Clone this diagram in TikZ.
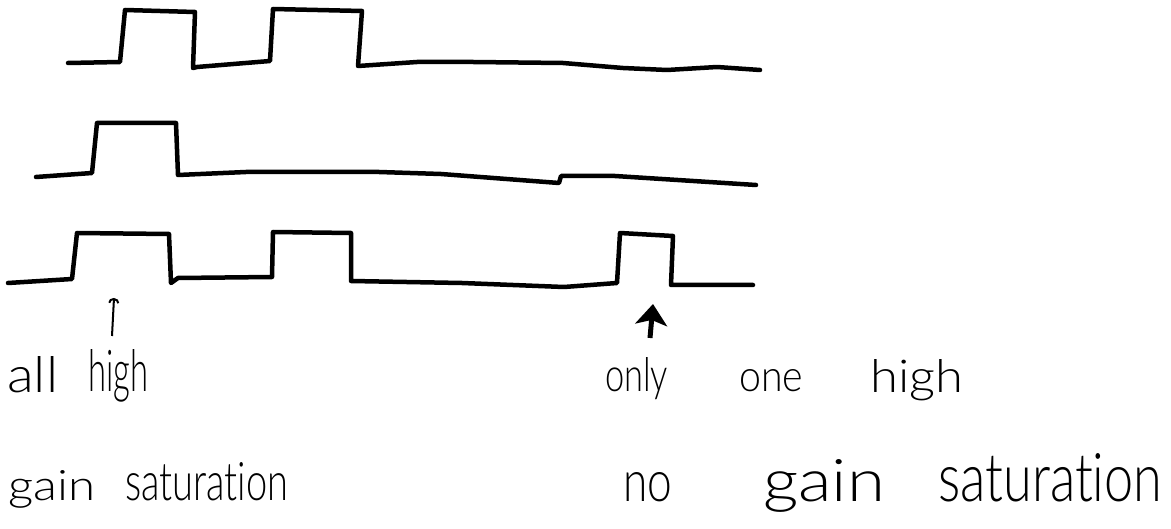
\documentclass[tikz,border=0pt]{standalone}
\usepackage{graphicx}
\usepackage{fontspec}
\newfontfamily\handfont{Lato Light}[Ligatures=NoCommon]
\usetikzlibrary{arrows.meta}
\begin{document}
\begin{tikzpicture}[x=1pt,y=-1pt,
  wave/.style={line width=4.5pt, line join=round, line cap=round},
  lbl/.style={inner sep=0pt, anchor=base west, font=\handfont}]
\useasboundingbox (0,0) rectangle (1171,529);
% waveform 1
\draw[wave] (68,63) -- (120,62) -- (125,10) -- (195,12) -- (193,68) -- (197,67)
  -- (270,61) -- (273,9) -- (362,11) -- (358,66) -- (417,62) -- (473,62)
  -- (563,63) -- (623,68) -- (667,70) -- (717,67) -- (760,70);
% waveform 2
\draw[wave] (36,177) -- (92,173) -- (97,123) -- (176,123) -- (178,175)
  -- (246,172) -- (379,172) -- (441,174) -- (559,183) -- (561,176)
  -- (615,176) -- (756,185);
% waveform 3
\draw[wave] (8,283) -- (72,279) -- (77,233) -- (169,234) -- (171,283)
  -- (178,278) -- (272,277) -- (273,232) -- (351,233) -- (351,281)
  -- (462,283) -- (564,287) -- (617,283) -- (620,233) -- (673,236)
  -- (671,285) -- (753,285);
% arrows
\coordinate (a1s) at (112,336);
\coordinate (a1e) at (114,298);
\draw[line width=2pt, -{Arc Barb[length=5pt,width=11pt]}] (a1s) -- (a1e);
\coordinate (a2s) at (650,338);
\coordinate (a2e) at (653,304);
\draw[line width=5pt, -{Stealth[length=21pt,width=32pt,inset=5pt]}] (a2s) -- (a2e);
% labels
\node[lbl] (allhigh) at (7,392)
  {\resizebox{51pt}{36pt}{all}\hspace{30pt}\resizebox{60pt}{42pt}{high}};
\node[lbl] (onlyone) at (605,392)
  {\resizebox{63pt}{34pt}{only}\hspace{71pt}\resizebox{64pt}{22pt}{one}\hspace{67pt}\resizebox{93pt}{33pt}{high}};
\node[lbl] (gainsat) at (8,500)
  {\resizebox{87pt}{30pt}{gain}\hspace{30pt}\resizebox{163pt}{38pt}{saturation}};
\node[lbl] (nogainsat) at (623,501)
  {\resizebox{49pt}{29pt}{no}\hspace{91pt}\resizebox{122pt}{42pt}{gain}\hspace{53pt}\resizebox{224pt}{48pt}{saturation}};
\end{tikzpicture}
\end{document}
